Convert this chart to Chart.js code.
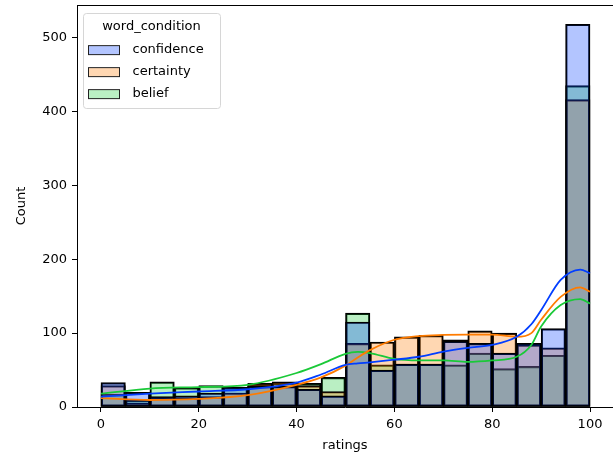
<!DOCTYPE html>
<html>
<head>
<meta charset="utf-8">
<script src="https://cdn.jsdelivr.net/npm/chart.js@4.4.0/dist/chart.umd.min.js"></script>
<style>
  html, body { margin: 0; padding: 0; background: #fff; }
  canvas { display: block; }
</style>
</head>
<body>
<canvas id="chart" width="613" height="455"></canvas>
<script>
// histogram bins (width 5), centres
const binCenters = [2.5, 7.5, 12.5, 17.5, 22.5, 27.5, 32.5, 37.5, 42.5, 47.5,
                    52.5, 57.5, 62.5, 67.5, 72.5, 77.5, 82.5, 87.5, 92.5, 97.5];
const confidence = [33, 20, 14, 15, 19, 27, 28, 28, 24, 15, 115, 50, 58, 58, 89, 86, 73, 86, 106, 518];
const certainty  = [29, 5, 12, 12, 14, 19, 32, 34, 29, 21, 86, 88, 95, 97, 91, 103, 100, 84, 80, 416];
const belief     = [17, 9, 34, 26, 29, 26, 30, 32, 32, 40, 127, 57, 58, 58, 57, 73, 52, 55, 70, 435];

// kde curves
const kdeX          = [0, 10, 20, 30, 40, 45, 50, 52.5, 55, 60, 65, 70, 75, 80, 85, 88, 90, 94, 98, 100];
const kdeConfidence = [14, 18, 21, 24, 33, 44, 57, 59, 60.5, 64, 68, 75, 80, 84, 95, 112, 131, 172, 186, 181];
const kdeCertainty  = [12, 9.5, 11, 16, 30, 40, 56, 67, 77, 91, 96, 97.5, 98, 98, 95, 100, 118, 149, 162, 156];
const kdeBelief     = [18, 25, 27, 30, 46, 58, 72, 74.5, 73, 65, 63, 63, 61, 63, 68, 84, 109, 138, 146, 140];

const xTicks = [0, 20, 40, 60, 80, 100];
const yTicks = [0, 100, 200, 300, 400, 500];

const FONT = { family: 'DejaVu Sans', size: 13 };
const BLUE = [2, 62, 255], ORANGE = [255, 124, 0], GREEN = [26, 201, 56];
const rgba = (c, a) => `rgba(${c[0]},${c[1]},${c[2]},${a})`;
const ALPHA = 0.3;

const series = [
  { label: 'confidence', counts: confidence, kde: kdeConfidence, color: BLUE },
  { label: 'certainty', counts: certainty, kde: kdeCertainty, color: ORANGE },
  { label: 'belief', counts: belief, kde: kdeBelief, color: GREEN },
];

// legend patch drawn into a small canvas, used as point style
function makePatch(color) {
  const c = document.createElement('canvas');
  c.width = 40; c.height = 12;
  const g = c.getContext('2d');
  g.fillStyle = '#fff';
  g.fillRect(2.5, 1.5, 31, 9);
  g.fillStyle = rgba(color, ALPHA);
  g.fillRect(2.5, 1.5, 31, 9);
  g.strokeStyle = '#222';
  g.lineWidth = 1;
  g.strokeRect(2.5, 1.5, 31, 9);
  return c;
}
const patches = series.map(s => makePatch(s.color));

const barSets = series.map(s => ({
  type: 'bar',
  label: s.label,
  data: binCenters.map((x, i) => ({ x, y: s.counts[i] })),
  backgroundColor: rgba(s.color, ALPHA),
  borderColor: '#000',
  borderWidth: 1.5,
  borderSkipped: false,
  grouped: false,
  barPercentage: 1,
  categoryPercentage: 1,
  order: 1,
}));

const lineSets = series.map(s => ({
  type: 'line',
  label: s.label + ' kde',
  data: kdeX.map((x, i) => ({ x, y: s.kde[i] })),
  borderColor: rgba(s.color, 1),
  borderWidth: 1.8,
  pointRadius: 0,
  fill: false,
  cubicInterpolationMode: 'monotone',
  order: 0,
}));

const frame = {
  id: 'frame',
  afterLayout(chart) {
    // chartArea legends get top reset to 0, put it back in the plot
    chart.legend.top = chart.chartArea.top;
    chart.legend.width = 149;
  },
  beforeDraw(chart) {
    const { ctx, chartArea } = chart;
    ctx.save();
    ctx.beginPath();
    ctx.roundRect(chartArea.left + 6.5, chartArea.top + 8.5, 137, 95, 3);
    ctx.fillStyle = 'rgba(255,255,255,0.8)';
    ctx.fill();
    ctx.strokeStyle = '#d6d6d6';
    ctx.lineWidth = 1;
    ctx.stroke();
    ctx.restore();
  },
  afterDraw(chart) {
    const { ctx, chartArea } = chart;
    ctx.save();
    ctx.strokeStyle = '#000';
    ctx.lineWidth = 1;
    ctx.beginPath();
    ctx.moveTo(chartArea.left, chartArea.top + 0.5);
    ctx.lineTo(chartArea.right, chartArea.top + 0.5);
    ctx.stroke();
    ctx.restore();
  },
};

new Chart(document.getElementById('chart'), {
  type: 'bar',
  data: { datasets: [...barSets, ...lineSets] },
  options: {
    responsive: false,
    animation: false,
    devicePixelRatio: 1,
    layout: { padding: { top: 5, right: 0, bottom: 0, left: 0 } },
    scales: {
      x: {
        type: 'linear',
        min: -4.9,
        max: 104.7,
        offset: false,
        afterBuildTicks: (s) => { s.ticks = xTicks.map(v => ({ value: v })); },
        afterFit: (s) => { s.height = 48; s.paddingLeft = 0; s.paddingRight = 0; },
        grid: { offset: false, drawOnChartArea: false, tickLength: 5, tickColor: '#000', tickWidth: 1 },
        border: { display: true, color: '#000', width: 1 },
        ticks: { color: '#000', font: FONT, padding: 5, maxRotation: 0, autoSkip: false },
        title: { display: true, text: 'ratings', color: '#000', font: FONT, padding: { top: 0, bottom: 2 } },
      },
      y: {
        min: 0,
        max: 544,
        afterBuildTicks: (s) => { s.ticks = yTicks.map(v => ({ value: v })); },
        afterFit: (s) => { s.width = 77; s.paddingTop = 0; s.paddingBottom = 0; },
        grid: { drawOnChartArea: false, tickLength: 5, tickColor: '#000', tickWidth: 1 },
        border: { display: true, color: '#000', width: 1 },
        ticks: { color: '#000', font: FONT, padding: 5 },
        title: { display: true, text: 'Count', color: '#000', font: FONT, padding: { top: 14, bottom: 0 } },
      },
    },
    plugins: {
      tooltip: { enabled: false },
      legend: {
        position: 'chartArea',
        align: 'start',
        title: {
          display: true,
          text: 'word_condition',
          color: '#000',
          font: FONT,
          padding: { top: 15, bottom: -1 },
        },
        labels: {
          usePointStyle: true,
          pointStyleWidth: 40,
          boxHeight: 12,
          padding: 9,
          color: '#000',
          font: FONT,
          generateLabels: () => series.map((s, i) => ({
            text: s.label,
            pointStyle: patches[i],
            fillStyle: rgba(s.color, ALPHA),
            strokeStyle: '#222',
            lineWidth: 1,
            hidden: false,
            datasetIndex: i,
          })),
        },
      },
    },
  },
  plugins: [frame],
});
</script>
</body>
</html>
